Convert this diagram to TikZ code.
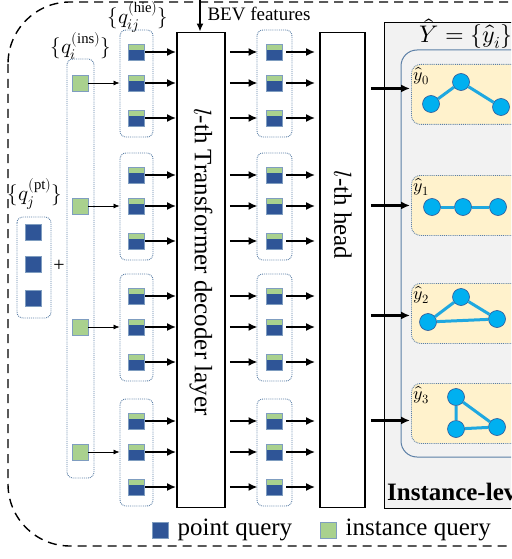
\documentclass[tikz,border=0pt]{standalone}
\usepackage{fontspec}
\usepackage{unicode-math}
\setmainfont{Liberation Serif}
\setmathfont{Latin Modern Math}
\usetikzlibrary{arrows.meta,positioning,calc}
\definecolor{ptblue}{HTML}{2F5597}
\definecolor{insgreen}{HTML}{A9D18E}
\definecolor{sqedge}{HTML}{7F9DC0}
\definecolor{grpedge}{HTML}{5B7FA6}
\definecolor{mapyellow}{HTML}{FFF2CC}
\definecolor{boxgray}{HTML}{F2F2F2}
\definecolor{dotcyan}{HTML}{00B0F0}
\definecolor{segcyan}{HTML}{1FA8E0}
\newcommand{\fs}[1]{\fontsize{#1}{#1}\selectfont}

\begin{document}
\begin{tikzpicture}[x=1pt,y=-1pt,
    ptq/.style={draw=sqedge,fill=ptblue,line width=0.9pt,minimum size=16pt,inner sep=0pt},
    insq/.style={ptq,fill=insgreen},
    hieq/.style={ptq,path picture={\fill[insgreen] (path picture bounding box.north west) rectangle ([yshift=-6pt]path picture bounding box.north east);}},
    grp/.style={draw=grpedge,densely dotted,line width=0.9pt,rounded corners=6pt},
    ybox/.style={grp,fill=mapyellow,rounded corners=9pt,anchor=north west,minimum width=160pt,minimum height=60pt,inner sep=0pt},
    layer/.style={draw,line width=1.8pt,minimum height=475pt,inner sep=0pt},
    arr/.style={-{Latex[length=9pt,width=8pt]},line width=2.4pt},
    link/.style={-{Latex[length=6pt,width=5pt]},line width=0.7pt},
    vtx/.style={circle,draw=ptblue,fill=dotcyan,line width=0.6pt,minimum size=17pt,inner sep=0pt},
    seg/.style={segcyan,line width=3pt}
]
\clip (0,0) rectangle (511,559);
\draw[dash pattern=on 9pt off 6pt,line width=1.4pt,rounded corners=62pt] (8,2) rectangle (640,546);

% query inputs
\node[font=\fs{21}] at (35,194) {$\{q_j^{(\mathrm{pt})}\}$};
\draw[grp] (17,217) rectangle (51,318);
\node[ptq] (pt1) at (33,232) {};
\node[ptq] (pt2) at (33,264) {};
\node[ptq] (pt3) at (33,298) {};
\node[font=\fs{20}] at (59,266) {+};
\node[font=\fs{21}] at (81,46) {$\{q_i^{(\mathrm{ins})}\}$};
\draw[grp] (67,59) rectangle (94,478);
\node[font=\fs{21}] at (138,17) {$\{q_{ij}^{(\mathrm{hie})}\}$};

% decoder layer and head
\node[layer,minimum width=48pt] (dec) at (201,270) {};
\node[rotate=-90,font=\fs{25}] at (201,262) {$l$-th Transformer decoder layer};
\node[layer,minimum width=45pt] (hd) at (342.5,270) {};
\node[rotate=-90,font=\fs{25}] at (343,215) {$l$-th head};
\coordinate (bev) at (200,0);
\draw[-{Latex[length=8pt,width=7pt]},line width=1.8pt] (bev) -- (dec.north -| bev);
\node[anchor=west,font=\fs{19}] at (204,14) {BEV features};

\foreach \g/\m in {1/83,2/206,3/327,4/452} {
  \draw[grp] (120,\m-53) rectangle (153,\m+54);
  \draw[grp] (257,\m-53) rectangle (292,\m+54);
  \node[insq] (ins\g) at (80,\m) {};
  \foreach \k/\d in {1/-31,2/0,3/35} {
    \node[hieq] (hl\g\k) at (136,\m+\d) {};
    \node[hieq] (hr\g\k) at (274,\m+\d) {};
    \draw[arr,shorten <=1pt] (hl\g\k.east) -- (hl\g\k.east -| dec.west);
    \draw[arr,shorten <=4pt,shorten >=8pt] (hl\g\k -| dec.east) -- (hr\g\k.west);
    \draw[arr,shorten <=4pt,shorten >=4pt] (hr\g\k.east) -- (hr\g\k.east -| hd.west);
  }
  \draw[link,shorten >=8pt] (ins\g.east) -- (hl\g2.west);
}

% instance-level output
\draw[fill=boxgray,line width=0.8pt] (384,22) rectangle (640,508);
\node[font=\fs{24}] at (466,34) {$\hat{Y}=\{\hat{y}_i\}$};
\draw[grpedge,line width=1pt,rounded corners=16pt] (401,50) rectangle (660,457);
\foreach \i/\t/\dy in {0/64/-6,1/175/0,2/283/2,3/383/7} {
  \node[ybox] (yb\i) at (411,\t) {};
  \node[anchor=north west,inner sep=1pt,font=\fs{18}] at ([xshift=1pt,yshift=-2pt]yb\i.north west) {$\hat{y}_\i$};
  \coordinate (ya\i) at ($(yb\i.west)+(0,\dy)$);
  \draw[arr,shorten <=5pt,shorten >=1pt] (ya\i -| hd.east) -- (ya\i);
}
\node[vtx] (v0a) at (431,104) {};
\node[vtx] (v0b) at (461,82) {};
\node[vtx] (v0c) at (501,107) {};
\draw[seg] (v0a) -- (v0b) -- (v0c);
\node[vtx] (v1a) at (432,207) {};
\node[vtx] (v1b) at (463,207) {};
\node[vtx] (v1c) at (498,207) {};
\draw[seg] (v1a) -- (v1b) -- (v1c);
\node[vtx] (v2a) at (428,322) {};
\node[vtx] (v2b) at (461,297) {};
\node[vtx] (v2c) at (497,319) {};
\draw[seg] (v2a) -- (v2b) -- (v2c); \draw[seg] (v2a) -- (v2c);
\node[vtx] (v3a) at (456,397) {};
\node[vtx] (v3b) at (456,429) {};
\node[vtx] (v3c) at (497,427) {};
\draw[seg] (v3a) -- (v3b) -- (v3c); \draw[seg] (v3a) -- (v3c);
\node[anchor=west,inner sep=0pt,font=\fs{25}\bfseries] at (387,492) {Instance-level};

% legend
\node[ptq] (lgpt) at (160,530) {};
\node[right=9pt of lgpt,inner sep=0pt,font=\fs{25}] {point query};
\node[insq] (lgins) at (328,530) {};
\node[right=9pt of lgins,inner sep=0pt,font=\fs{25}] {instance query};
\end{tikzpicture}
\end{document}
